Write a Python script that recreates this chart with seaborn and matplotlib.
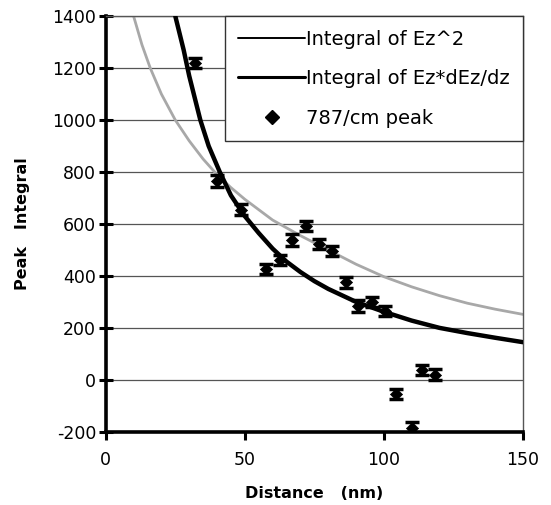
import numpy as np
import pandas as pd
import matplotlib
matplotlib.use("Agg")
import matplotlib.pyplot as plt
from matplotlib.lines import Line2D
import seaborn as sns

# ------------------------------------------------------------------
# Data
# ------------------------------------------------------------------
# measured 787/cm peak integral vs tip distance
peak_x = [32, 40, 48.5, 57.5, 62.8, 67.1, 71.9, 76.6, 81.2, 86.3, 90.8, 95.6, 100.4, 104.2, 110, 113.6, 118.3]
peak_y = [1220, 765, 655, 426, 461, 538, 592, 522, 496, 375, 285, 300, 265, -55, -185, 38, 20]
peak_err = [20, 22, 20, 20, 20, 22, 20, 20, 20, 20, 22, 20, 20, 20, 22, 20, 20]

# model curve: integral of Ez^2 (grey)
ez2_x = [10, 13, 16, 20, 25, 30, 35, 40, 45, 50, 60, 70, 80, 90, 100, 110, 120, 130, 140, 150]
ez2_y = [1400, 1290, 1200, 1100, 1000, 920, 850, 790, 740, 695, 615, 555, 500, 445, 397, 358, 324, 295, 272, 252]

# model curve: integral of Ez*dEz/dz (black)
ezd_x = [25, 28, 30, 34, 37, 41, 45, 50, 55, 60, 65, 70, 75, 80, 90, 100, 110, 120, 130, 140, 150]
ezd_y = [1400, 1270, 1170, 1000, 900, 800, 710, 630, 565, 505, 455, 415, 380, 350, 300, 262, 228, 200, 180, 162, 145]

ez2_df = pd.DataFrame({"x": ez2_x, "y": ez2_y})
ezd_df = pd.DataFrame({"x": ezd_x, "y": ezd_y})
peak_df = pd.DataFrame({"x": peak_x, "y": peak_y, "err": peak_err})

# ------------------------------------------------------------------
# Plot
# ------------------------------------------------------------------
sns.set_style("white")
plt.rcParams["font.family"] = ["DejaVu Sans"]
plt.rcParams["axes.unicode_minus"] = False
plt.rcParams["text.color"] = "black"
plt.rcParams["axes.labelcolor"] = "black"
plt.rcParams["xtick.color"] = "black"
plt.rcParams["ytick.color"] = "black"

fig, ax = plt.subplots(figsize=(5.51, 5.05), dpi=100)
fig.subplots_adjust(left=0.192, right=0.949, bottom=0.145, top=0.968)

ax.yaxis.grid(True, color="#555555", linewidth=0.9)
ax.set_axisbelow(True)

sns.lineplot(data=ez2_df, x="x", y="y", ax=ax, color="#a8a8a8", linewidth=2.0, zorder=2)
sns.lineplot(data=ezd_df, x="x", y="y", ax=ax, color="black", linewidth=3.2, zorder=3)

ax.errorbar(peak_df["x"], peak_df["y"], yerr=peak_df["err"], fmt="none",
            ecolor="black", elinewidth=1.8, capsize=5, capthick=2.5, zorder=4)
sns.scatterplot(data=peak_df, x="x", y="y", ax=ax, marker="D", s=38,
                color="black", edgecolor="black", zorder=5)

ax.set_xlim(0, 150)
ax.set_ylim(-200, 1400)
ax.set_xticks([0, 50, 100, 150])
ax.set_yticks(range(-200, 1401, 200))

for side in ["left", "bottom"]:
    ax.spines[side].set_linewidth(2.6)
    ax.spines[side].set_color("black")
for side in ["top", "right"]:
    ax.spines[side].set_linewidth(1.0)
    ax.spines[side].set_color("#555555")

ax.tick_params(axis="y", left=True, direction="inout", length=10, width=2.2,
               labelsize=12.5, pad=2)
ax.tick_params(axis="x", bottom=True, direction="out", length=6, width=2.2,
               labelsize=12.5, pad=8)

ax.set_xlabel("Distance   (nm)", fontsize=11.5, fontweight="bold", labelpad=12)
ax.set_ylabel("Peak   Integral", fontsize=11.5, fontweight="bold", labelpad=16)

handles = [
    Line2D([], [], color="black", linewidth=1.4),
    Line2D([], [], color="black", linewidth=2.2),
    Line2D([], [], color="black", marker="D", linestyle="none", markersize=7),
]
labels = ["Integral of Ez^2", "Integral of Ez*dEz/dz", "787/cm peak"]
leg = ax.legend(handles, labels, loc="upper right", bbox_to_anchor=(1.0, 1.0),
                borderaxespad=0, fancybox=False, framealpha=1, edgecolor="#333333",
                fontsize=14, handlelength=3.4, handletextpad=0.05, labelspacing=1.05,
                borderpad=0.7)
leg.get_frame().set_linewidth(1.0)

plt.savefig("out.png", dpi=100)
plt.close()
